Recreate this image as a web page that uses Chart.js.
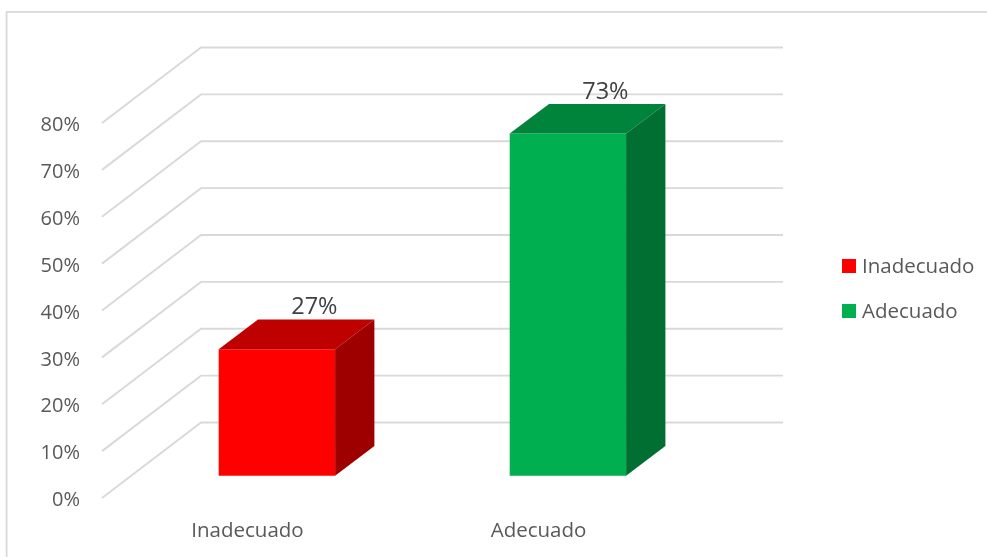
<!DOCTYPE html>
<html>
<head>
<meta charset="utf-8">
<title>Chart</title>
<script src="https://cdn.jsdelivr.net/npm/chart.js@4"></script>
<style>
  html, body { margin: 0; padding: 0; background: #fff; }
  canvas { display: block; }
</style>
</head>
<body>
<canvas id="chart" width="987" height="557"></canvas>
<script>
const categories = ['Inadecuado', 'Adecuado'];
const values = [27, 73];
const frontColors = ['#ff0000', '#00b050'];
const topColors = ['#bf0000', '#00843b'];
const sideColors = ['#9e0000', '#006f31'];

const FONT = '"Open Sans", sans-serif';
const GRID = '#d9d9d9';
// tick text renders a little high, so the axis sits lower and the marks are lifted back
const lift = 2.5;
// depth of the fake 3D box: wall offset from the front axis, bar offset, bar depth
const wall = { dx: 99, dy: 75.5 };
const barShift = { dx: 29.4, dy: 22.3 + lift };
const barDepth = { dx: 39.3, dy: 29.6 };

function poly(ctx, color, pts) {
  ctx.fillStyle = color;
  ctx.beginPath();
  pts.forEach((p, i) => i ? ctx.lineTo(p[0], p[1]) : ctx.moveTo(p[0], p[1]));
  ctx.closePath();
  ctx.fill();
}

const box3d = {
  id: 'box3d',
  beforeDraw(chart) {
    const ctx = chart.ctx;
    ctx.save();
    ctx.strokeStyle = GRID;
    ctx.lineWidth = 1.8;
    ctx.beginPath();
    ctx.moveTo(6.6, 557);
    ctx.lineTo(6.6, 11.9);
    ctx.lineTo(987, 11.9);
    ctx.stroke();
    ctx.restore();
  },
  beforeDatasetsDraw(chart) {
    const { ctx, chartArea, scales } = chart;
    ctx.save();
    ctx.strokeStyle = GRID;
    ctx.lineWidth = 1.9;
    scales.y.ticks.forEach(t => {
      const y = scales.y.getPixelForValue(t.value) - lift;
      ctx.beginPath();
      ctx.moveTo(chartArea.left, y);
      ctx.lineTo(chartArea.left + wall.dx, y - wall.dy);
      ctx.lineTo(chartArea.right + wall.dx, y - wall.dy);
      ctx.stroke();
    });
    ctx.restore();
  },
  beforeDatasetDraw(chart) {
    chart.ctx.save();
    chart.ctx.translate(barShift.dx, -barShift.dy);
  },
  afterDatasetDraw(chart) {
    const ctx = chart.ctx;
    chart.getDatasetMeta(0).data.forEach((bar, i) => {
      const l = bar.x - bar.width / 2, r = bar.x + bar.width / 2;
      const d = barDepth;
      poly(ctx, topColors[i], [[l, bar.y], [l + d.dx, bar.y - d.dy], [r + d.dx, bar.y - d.dy], [r, bar.y]]);
      poly(ctx, sideColors[i], [[r, bar.y], [r + d.dx, bar.y - d.dy], [r + d.dx, bar.base - d.dy], [r, bar.base]]);
    });
    ctx.restore();
  },
  afterDraw(chart) {
    const ctx = chart.ctx;
    ctx.save();
    // data labels sit above the back edge of each bar
    ctx.font = '23.5px ' + FONT;
    ctx.fillStyle = '#404040';
    ctx.textAlign = 'center';
    ctx.textBaseline = 'middle';
    chart.getDatasetMeta(0).data.forEach((bar, i) => {
      ctx.fillText(values[i] + '%', bar.x + barShift.dx + 37.5, bar.y - barShift.dy - 41.5);
    });
    // legend
    ctx.font = '20.5px ' + FONT;
    ctx.textAlign = 'left';
    categories.forEach((name, i) => {
      const y = 266 + i * 45;
      ctx.fillStyle = frontColors[i];
      ctx.fillRect(842, y - 7, 14, 14);
      ctx.fillStyle = '#595959';
      ctx.fillText(name, 862, y + 1);
    });
    ctx.restore();
  }
};

new Chart(document.getElementById('chart'), {
  type: 'bar',
  data: {
    labels: categories,
    datasets: [{
      data: values,
      backgroundColor: frontColors,
      borderWidth: 0,
      categoryPercentage: 1,
      barPercentage: 0.4,
      clip: false
    }]
  },
  options: {
    responsive: false,
    animation: false,
    layout: { padding: { left: 0, top: 123 + lift, right: 303, bottom: 0 } },
    plugins: { legend: { display: false }, tooltip: { enabled: false } },
    scales: {
      x: {
        afterFit: s => { s.height = 59 - lift; },
        grid: { display: false, drawTicks: false },
        border: { display: false },
        ticks: { color: '#595959', font: { family: FONT, size: 20.5 }, padding: 18.5, maxRotation: 0 }
      },
      y: {
        min: 0,
        max: 80,
        afterFit: s => { s.width = 102; },
        grid: { display: false, drawTicks: false },
        border: { display: false },
        ticks: {
          stepSize: 10,
          color: '#595959',
          font: { family: FONT, size: 20 },
          padding: 22,
          callback: v => v + '%'
        }
      }
    }
  },
  plugins: [box3d]
});
</script>
</body>
</html>
